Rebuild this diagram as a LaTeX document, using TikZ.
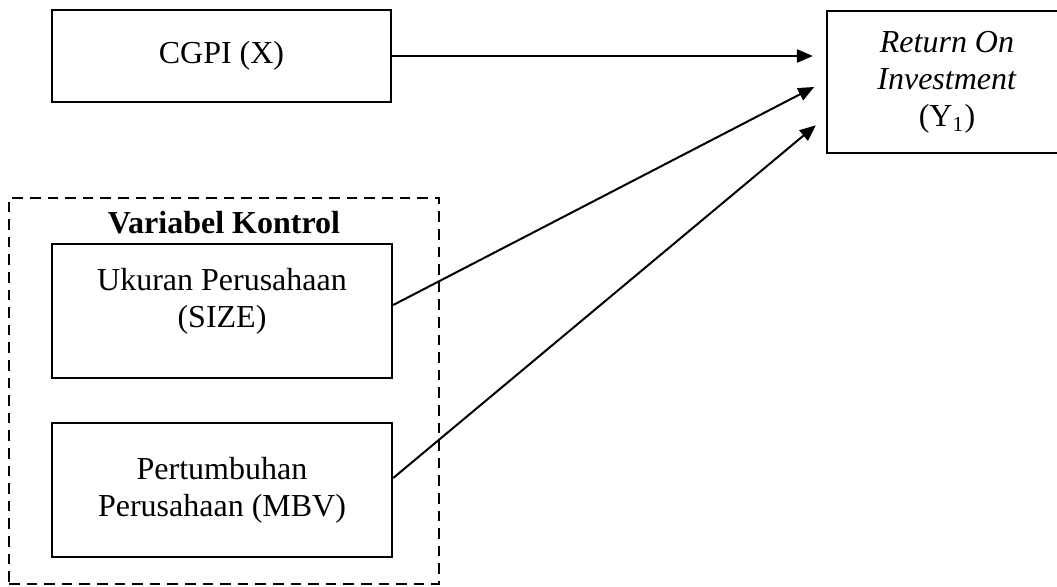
\documentclass[tikz,border=0pt]{standalone}
\usepackage{fontspec}
\setmainfont{Liberation Serif}
\usetikzlibrary{arrows.meta,positioning}
\tikzstyle{arrow} = [line width=0.75pt,-{Triangle[length=6pt,width=5pt]},shorten >=4.9pt]
\tikzstyle{varbox} = [rectangle, draw=black, line width=0.9pt, text centered, align=center, inner sep=0pt]
\tikzstyle{kontrolbox} = [rectangle, draw=black, line width=0.8pt, dash pattern=on 4pt off 2.6pt]

\begin{document}
\begin{tikzpicture}[x=0.375pt,y=-0.375pt,font=\fontsize{12pt}{13.9pt}\selectfont]
\useasboundingbox (0,0) rectangle (1057,586);

% CGPI
\node[varbox, minimum width=127.1pt, minimum height=34.5pt] (cgpi) at (221.5,56) {CGPI (X)};

% Return On Investment
\node[varbox, minimum width=90pt, minimum height=53.25pt] (roi) at (947,82) {
\textit{Return On}\\
\textit{Investment}\\
(Y\textsubscript{1})
};

% Variabel Kontrol
\node[kontrolbox, minimum width=161.25pt, minimum height=144.75pt] (kontrol) at (224,391) {};
\node[font=\fontsize{12pt}{13.9pt}\selectfont\bfseries] (kontrollabel) at (224,223) {Variabel Kontrol};

% SIZE
\node[varbox, minimum width=127.5pt, minimum height=50.25pt, text depth=10pt] (size) at (222,311) {
Ukuran Perusahaan\\
(SIZE)
};

% MBV
\node[varbox, minimum width=127.5pt, minimum height=50.25pt] (mbv) at (222,490) {
Pertumbuhan\\
Perusahaan (MBV)
};

\draw[arrow] (cgpi.east) -- (cgpi.east -| roi.west);
\draw[arrow] ([yshift=2.25pt]size.east) -- ([yshift=0.4pt]roi.west);
\draw[arrow] ([yshift=4.5pt]mbv.east) -- ([yshift=-13.1pt]roi.west);
\end{tikzpicture}
\end{document}
